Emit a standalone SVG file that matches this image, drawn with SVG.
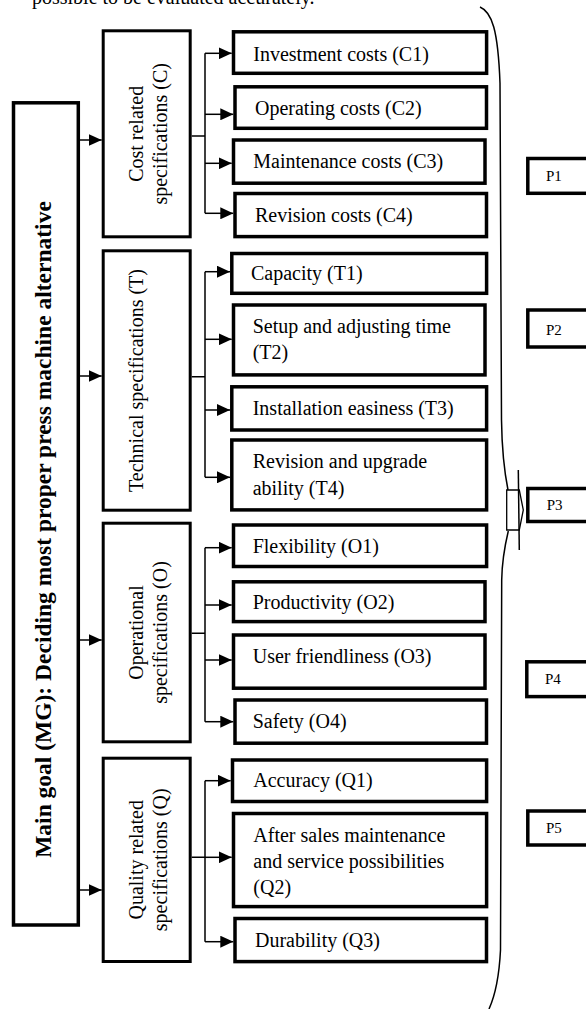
<svg xmlns="http://www.w3.org/2000/svg" width="586" height="1009" viewBox="0 0 586 1009">
<style>
text{font-family:"Liberation Serif","Times New Roman",serif;fill:#000}
.t{font-size:20px}
.p{font-size:15px}
.mg{font-size:23.5px;font-weight:bold}
.bx{fill:#fff;stroke:#000;stroke-width:3.5}
.cb{fill:#fff;stroke:#000;stroke-width:3}
.ln{fill:none;stroke:#000;stroke-width:1.5}
</style>
<defs>
<marker id="ah" markerUnits="userSpaceOnUse" markerWidth="13" markerHeight="12" refX="13" refY="6" orient="auto">
<path d="M0,0 L13,6 L0,12 z" fill="#000"/>
</marker>
</defs>
<rect width="586" height="1009" fill="#fff"/>
<text class="t" x="32" y="4">possible to be evaluated accurately.</text>

<g id="connectors" class="ln">
<path d="M80,140 H101.7" marker-end="url(#ah)"/>
<path d="M80,376 H101.7" marker-end="url(#ah)"/>
<path d="M80,640 H101.7" marker-end="url(#ah)"/>
<path d="M80,890 H101.7" marker-end="url(#ah)"/>
<path d="M191.7,136 H205 M205,53.3 V213.3"/>
<path d="M205,53.3 H231.7" marker-end="url(#ah)"/>
<path d="M205,114.3 H233.3" marker-end="url(#ah)"/>
<path d="M205,163.3 H231.7" marker-end="url(#ah)"/>
<path d="M205,213.3 H233.3" marker-end="url(#ah)"/>
<path d="M191.7,376.7 H205 M205,271.7 V477.3"/>
<path d="M205,271.7 H230" marker-end="url(#ah)"/>
<path d="M205,339.3 H231.7" marker-end="url(#ah)"/>
<path d="M205,410 H230" marker-end="url(#ah)"/>
<path d="M205,477.3 H230" marker-end="url(#ah)"/>
<path d="M191.7,633.3 H205 M205,547.7 V721.7"/>
<path d="M205,547.7 H231.7" marker-end="url(#ah)"/>
<path d="M205,605 H231.7" marker-end="url(#ah)"/>
<path d="M205,660 H231.7" marker-end="url(#ah)"/>
<path d="M205,721.7 H233.3" marker-end="url(#ah)"/>
<path d="M191.7,857.3 H205 M205,780.7 V941.7"/>
<path d="M205,780.7 H230.7" marker-end="url(#ah)"/>
<path d="M205,857.3 H231.7" marker-end="url(#ah)"/>
<path d="M205,941.7 H233.3" marker-end="url(#ah)"/>
</g>

<g id="MG">
<rect class="bx" x="13.5" y="102.8" width="64.8" height="822.2"/>
<text class="mg" transform="translate(51,529.5) rotate(-90)" text-anchor="middle">Main goal (MG): Deciding most proper press machine alternative</text>
</g>

<g id="C">
<rect class="cb" x="103.2" y="30.8" width="87" height="206"/>
<text class="t" transform="translate(143.3,133.8) rotate(-90)" text-anchor="middle">Cost related</text>
<text class="t" transform="translate(166.7,133.8) rotate(-90)" text-anchor="middle">specifications (C)</text>
</g>
<g id="T">
<rect class="cb" x="103.2" y="250.8" width="87" height="259.4"/>
<text class="t" transform="translate(143,380.5) rotate(-90)" text-anchor="middle">Technical specifications (T)</text>
</g>
<g id="O">
<rect class="cb" x="103.2" y="523.2" width="87" height="218.6"/>
<text class="t" transform="translate(143.3,632.5) rotate(-90)" text-anchor="middle">Operational</text>
<text class="t" transform="translate(166.7,632.5) rotate(-90)" text-anchor="middle">specifications (O)</text>
</g>
<g id="Q">
<rect class="cb" x="103.2" y="758.2" width="87" height="203.3"/>
<text class="t" transform="translate(143.3,859.8) rotate(-90)" text-anchor="middle">Quality related</text>
<text class="t" transform="translate(166.7,859.8) rotate(-90)" text-anchor="middle">specifications (Q)</text>
</g>

<g id="C1"><rect class="bx" x="233.5" y="31.8" width="253.1" height="41.5"/><text class="t" x="253.3" y="60.7">Investment costs (C1)</text></g>
<g id="C2"><rect class="bx" x="235" y="86.8" width="251.5" height="41.5"/><text class="t" x="255" y="115">Operating costs (C2)</text></g>
<g id="C3"><rect class="bx" x="233.5" y="140" width="251.5" height="43.2"/><text class="t" x="253.3" y="168.3">Maintenance costs (C3)</text></g>
<g id="C4"><rect class="bx" x="235" y="193.5" width="251.5" height="43.1"/><text class="t" x="255" y="221.7">Revision costs (C4)</text></g>

<g id="T1"><rect class="bx" x="231.8" y="253.5" width="254.8" height="39.8"/><text class="t" x="251" y="280">Capacity (T1)</text></g>
<g id="T2"><rect class="bx" x="233.5" y="305" width="251.5" height="69.9"/><text class="t" x="252.7" y="332.7">Setup and adjusting time</text><text class="t" x="252.7" y="359.3">(T2)</text></g>
<g id="T3"><rect class="bx" x="231.8" y="386.8" width="254.8" height="43.2"/><text class="t" x="252.7" y="415">Installation easiness (T3)</text></g>
<g id="T4"><rect class="bx" x="231.8" y="440" width="254.8" height="69.9"/><text class="t" x="252.7" y="468.3">Revision and upgrade</text><text class="t" x="252.7" y="495">ability (T4)</text></g>

<g id="O1"><rect class="bx" x="233.5" y="525" width="253.1" height="41.5"/><text class="t" x="252.7" y="553.3">Flexibility (O1)</text></g>
<g id="O2"><rect class="bx" x="233.5" y="581.8" width="251.5" height="39.8"/><text class="t" x="252.7" y="609.3">Productivity (O2)</text></g>
<g id="O3"><rect class="bx" x="233.5" y="635" width="251.5" height="53.2"/><text class="t" x="252.7" y="663.3">User friendliness (O3)</text></g>
<g id="O4"><rect class="bx" x="235" y="700" width="251.5" height="43.2"/><text class="t" x="252.7" y="728.3">Safety (O4)</text></g>

<g id="Q1"><rect class="bx" x="232.5" y="760" width="254.1" height="41.5"/><text class="t" x="253.3" y="786.7">Accuracy (Q1)</text></g>
<g id="Q2"><rect class="bx" x="233.5" y="813.5" width="253.1" height="93.1"/><text class="t" x="253.3" y="841.7">After sales maintenance</text><text class="t" x="253.3" y="868.3">and service possibilities</text><text class="t" x="253.3" y="894.3">(Q2)</text></g>
<g id="Q3"><rect class="bx" x="235" y="918.5" width="251.5" height="43.1"/><text class="t" x="255" y="946.7">Durability (Q3)</text></g>

<g id="brace">
<path class="ln" d="M480,7 C492,12 498,30 500,83 L501.5,420 C502,455 505,475 508,490"/>
<path class="ln" d="M508.3,531 C505,545 502,560 501.7,580 L500.5,950 C499,980 494,998 489,1009"/>
<polygon points="506.7,490 519.3,490 523.3,510 519.3,530 506.7,530" fill="#fff" stroke="#000" stroke-width="1.3"/>
<path class="ln" d="M518.3,470 L519.3,550"/>
</g>

<g id="P1"><rect class="bx" x="527.8" y="158.5" width="80" height="34.8"/><text class="p" x="546" y="180.7">P1</text></g>
<g id="P2"><rect class="bx" x="527.8" y="310" width="80" height="37"/><text class="p" x="546" y="335">P2</text></g>
<g id="P3"><rect class="bx" x="527.8" y="488.5" width="80" height="33"/><text class="p" x="546.7" y="510">P3</text></g>
<g id="P4"><rect class="bx" x="526.8" y="661.8" width="80" height="34.8"/><text class="p" x="545" y="684">P4</text></g>
<g id="P5"><rect class="bx" x="527.8" y="811" width="80" height="34"/><text class="p" x="546" y="833.3">P5</text></g>
</svg>
